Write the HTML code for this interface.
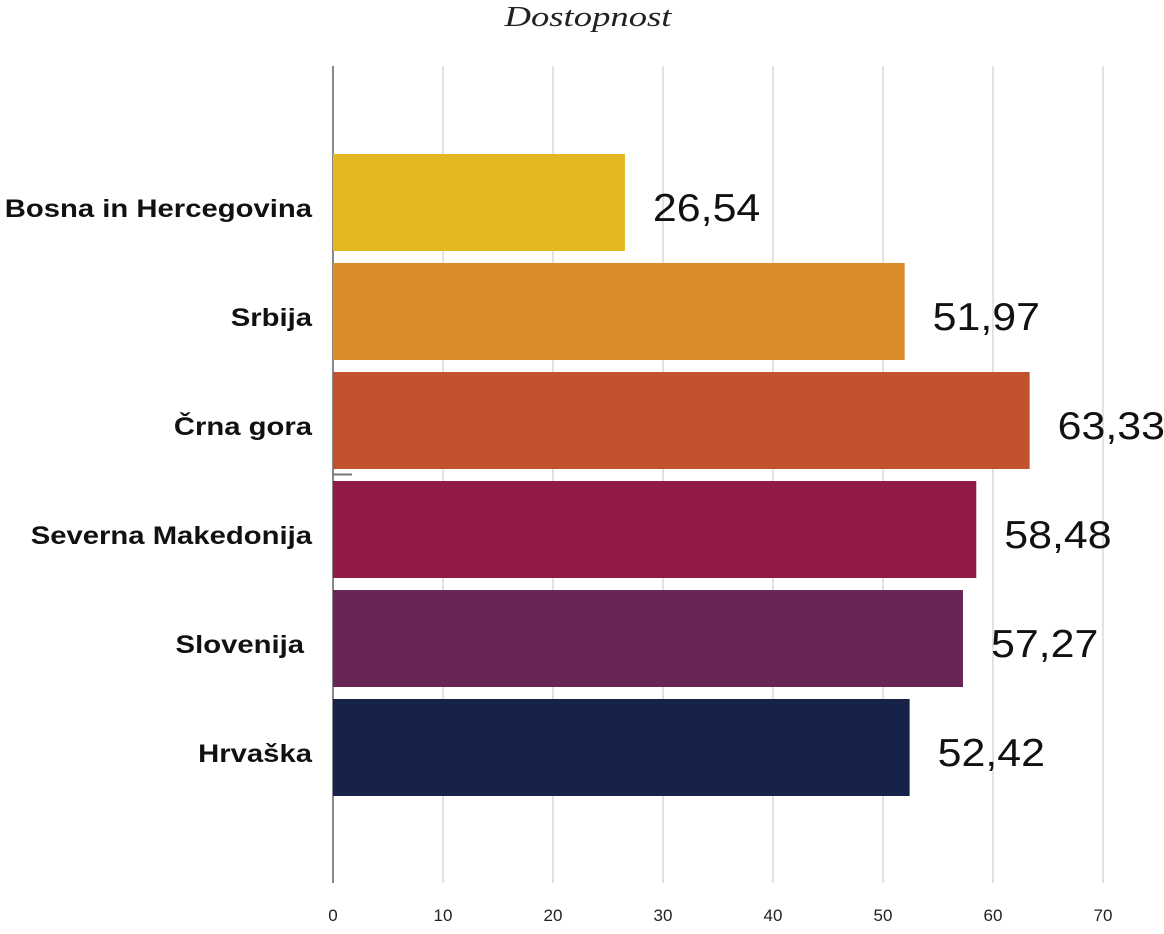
<!DOCTYPE html>
<html><head><meta charset="utf-8"><style>
body{margin:0;background:#fff;width:1164px;height:929px;overflow:hidden;font-family:"Liberation Sans",sans-serif}
</style></head><body>
<svg id="chart" width="1164" height="929" xmlns="http://www.w3.org/2000/svg">
<text x="588" y="26" text-anchor="middle" font-family="Liberation Serif" font-style="italic" font-size="28" textLength="167" lengthAdjust="spacingAndGlyphs" fill="#222">Dostopnost</text>
<g id="grid"></g><g id="bars"></g><g id="labels"></g>
</svg>
<script>
const categories=["Bosna in Hercegovina","Srbija","Črna gora","Severna Makedonija","Slovenija","Hrvaška"];
const values=[26.54,51.97,63.33,58.48,57.27,52.42];
const valueLabels=["26,54","51,97","63,33","58,48","57,27","52,42"];
const colors=["#E2B920","#D88D2A","#C1522D","#931A47","#682657","#162247"];
const ticks=[0,10,20,30,40,50,60,70];
const NS="http://www.w3.org/2000/svg";
const x=v=>333+v*11;
const y=i=>154+i*109;
function mk(t,a,p){const e=document.createElementNS(NS,t);for(const k in a)e.setAttribute(k,a[k]);document.getElementById(p).appendChild(e);return e;}
function stretch(el,f){const w=el.getComputedTextLength();el.setAttribute('textLength',w*f);el.setAttribute('lengthAdjust','spacingAndGlyphs');}
ticks.forEach(t=>{
 const l=mk('line',{x1:x(t),x2:x(t),y1:66,y2:883,stroke:t===0?'#888':'#c4c4c4','stroke-width':t===0?2:1},'grid');
 
 
 const tx=mk('text',{x:x(t),y:921,'text-anchor':'middle','font-size':17,fill:'#222'},'grid');
 tx.textContent=t;
 
 
});
const sm=mk('line',{x1:333,x2:352,y1:474.5,y2:474.5,stroke:'#777','stroke-width':2},'grid');


categories.forEach((c,i)=>{
 const r=mk('rect',{x:x(0),y:y(i),width:x(values[i])-x(0),height:97,fill:colors[i]},'bars');
 
 
 const cl=mk('text',{x:c==='Slovenija'?304:312,y:y(i)+63,'text-anchor':'end','font-size':25,'font-weight':'bold',fill:'#111'},'labels');
 cl.textContent=c;
 
 
 stretch(cl,1.17);
 const vl=mk('text',{x:x(values[i])+28,y:y(i)+67,'font-size':39,fill:'#111'},'labels');
 vl.textContent=valueLabels[i];
 
 
 stretch(vl,1.1);
});
</script>
</body></html>
